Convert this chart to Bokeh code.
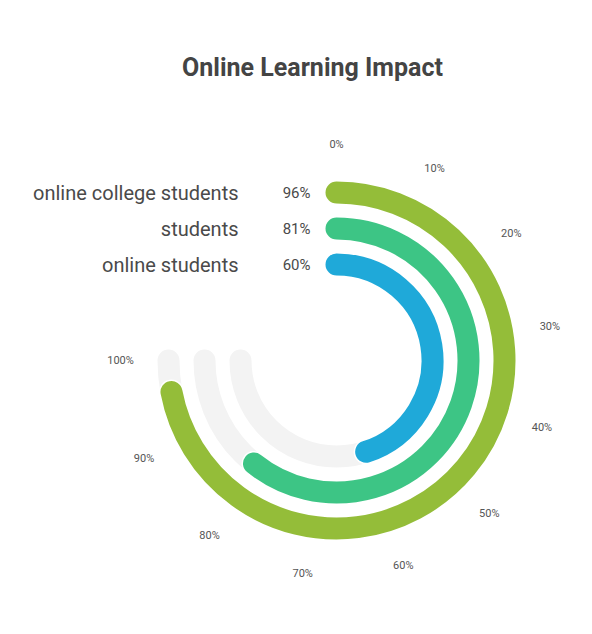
import math
from bokeh.plotting import figure
from bokeh.models import Range1d
from bokeh.core.properties import value
from bokeh.embed import file_html
from bokeh.resources import INLINE

# ---- data ----
categories = ["online college students", "students", "online students"]
values = [96, 81, 60]
colors = ["#94bd39", "#3dc585", "#1fa9d9"]
tick_values = [0, 10, 20, 30, 40, 50, 60, 70, 80, 90, 100]
tick_labels = ["0%", "10%", "20%", "30%", "40%", "50%", "60%", "70%", "80%", "90%", "100%"]
title_text = "Online Learning Impact"

# ---- layout ----
W, H = 576, 618
CX, CY = 336, -360          # data coords: x = screen x, y = -screen y
RADII = [168, 132, 96]
BAR_W = 22
SWEEP = 1.5 * math.pi       # 0..100% spans 270 degrees clockwise from top
LABEL_R = 216
FONT = "Roboto"


def angle_of(v):
    return math.pi / 2 - v / 100.0 * SWEEP


p = figure(width=W, height=H, output_backend="svg", toolbar_location=None,
           x_range=Range1d(0, W), y_range=Range1d(-H, 0),
           min_border=0, tools="")
p.axis.visible = False
p.grid.visible = False
p.outline_line_color = None
p.background_fill_color = "white"
p.border_fill_color = "white"

n = len(values)
# background tracks
p.arc(x=[CX] * n, y=[CY] * n, radius=RADII, start_angle=[math.pi / 2] * n,
      end_angle=[angle_of(100)] * n, direction="clock",
      line_color="#f3f3f3", line_width=BAR_W, line_cap="round")
# white outline under the bars
p.arc(x=[CX] * n, y=[CY] * n, radius=RADII, start_angle=[math.pi / 2] * n,
      end_angle=[angle_of(v) for v in values], direction="clock",
      line_color="white", line_width=BAR_W + 3, line_cap="round")
# value bars
for r, v, c in zip(RADII, values, colors):
    p.arc(x=CX, y=CY, radius=r, start_angle=math.pi / 2, end_angle=angle_of(v),
          direction="clock", line_color=c, line_width=BAR_W, line_cap="round")

# tick labels around the circle
tx = [CX + LABEL_R * math.cos(angle_of(t)) for t in tick_values]
ty = [CY + LABEL_R * math.sin(angle_of(t)) for t in tick_values]
p.text(x=tx, y=ty, text=tick_labels, text_align="center", text_baseline="middle",
       text_font=value(FONT), text_font_size="11px", text_color="#555555")

# category labels and values
ly = [CY + r for r in RADII]
p.text(x=[238] * n, y=ly, text=categories, text_align="right", text_baseline="middle",
       text_font=value(FONT), text_font_size="20px", text_color="#4a4a4a")
p.text(x=[310] * n, y=ly, text=[f"{v}%" for v in values], text_align="right",
       text_baseline="middle", text_font=value(FONT), text_font_size="15px",
       text_color="#4a4a4a")

# title
p.text(x=[312], y=[-67], text=[title_text], text_align="center", text_baseline="middle",
       text_font=value(FONT), text_font_size="25px", text_font_style="bold",
       text_color="#444444")

open("out.html", "w").write(file_html(p, INLINE))
